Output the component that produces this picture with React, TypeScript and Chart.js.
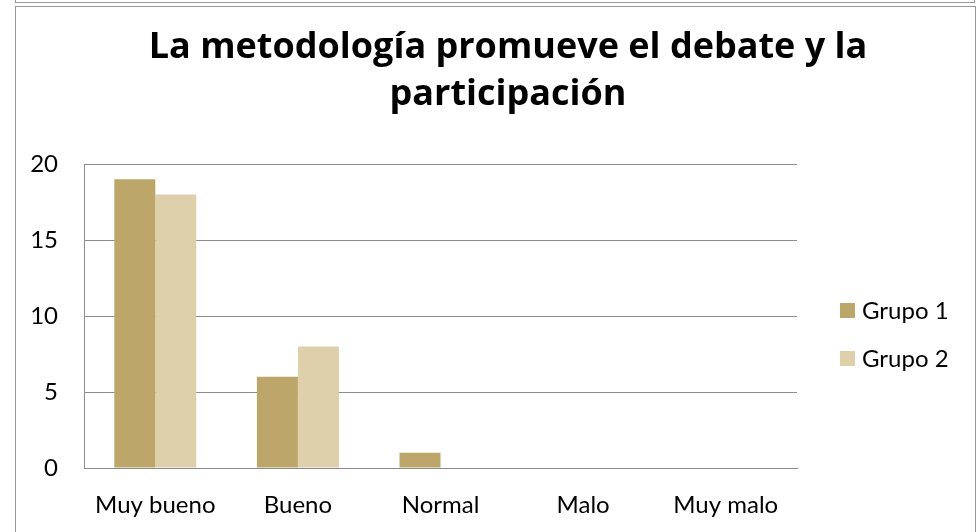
import React, { useEffect, useRef } from "react";
import { Chart, registerables } from "chart.js";

Chart.register(...registerables);

const categories = ["Muy bueno", "Bueno", "Normal", "Malo", "Muy malo"];
const seriesNames = ["Grupo 1", "Grupo 2"];
const grupo1 = [19, 6, 1, 0, 0];
const grupo2 = [18, 8, 0, 0, 0];
const seriesColors = ["#BCA66A", "#DDD0AB"];
const titleLines = ["La metodología promueve el debate y la", "participación"];
const yMin = 0;
const yMax = 20;
const yStep = 5;

const FONT = "Lato, 'Open Sans', sans-serif";
const TITLE_FONT = "'Open Sans', Lato, sans-serif";
const GRID = "#8c8c8c";

const legendPlugin = {
  id: "customLegend",
  afterDraw(chart: any) {
    const ctx = chart.ctx;
    ctx.save();
    ctx.font = `24px ${FONT}`;
    ctx.textBaseline = "middle";
    ctx.textAlign = "left";
    chart.data.datasets.forEach((ds: any, i: number) => {
      const y = 303 + i * 48;
      ctx.fillStyle = ds.backgroundColor;
      ctx.fillRect(840, y, 15, 15);
      ctx.fillStyle = "#000";
      ctx.fillText(ds.label, 862, y + 8);
    });
    ctx.restore();
  },
};

export default function App() {
  const ref = useRef<HTMLCanvasElement>(null);
  useEffect(() => {
    document.body.style.margin = "0";
    const chart = new Chart(ref.current!, {
      type: "bar",
      data: {
        labels: categories,
        datasets: [
          { label: seriesNames[0], data: grupo1, backgroundColor: seriesColors[0], yAxisID: "y" },
          { label: seriesNames[1], data: grupo2, backgroundColor: seriesColors[1], yAxisID: "y" },
        ],
      },
      options: {
        animation: false,
        responsive: false,
        maintainAspectRatio: false,
        devicePixelRatio: 1,
        layout: { padding: { left: 30, right: -6, top: 0, bottom: 0 } },
        datasets: { bar: { categoryPercentage: 0.575, barPercentage: 1, borderWidth: 0 } },
        plugins: {
          legend: { display: false },
          tooltip: { enabled: false },
          title: {
            display: true,
            text: titleLines,
            color: "#000",
            font: { family: TITLE_FONT, size: 36, weight: "bold", lineHeight: 47 / 36 },
            padding: { top: 24, bottom: 46 },
          },
        },
        scales: {
          x: {
            grid: { display: false },
            border: { display: true, color: GRID, width: 1 },
            ticks: { color: "#000", font: { family: FONT, size: 24 }, padding: 15, maxRotation: 0 },
            afterFit: (s: any) => { s.height = 64; },
          },
          y: {
            position: "left",
            min: yMin,
            max: yMax,
            grid: { color: GRID, lineWidth: 1, drawTicks: false },
            border: { display: true, color: GRID, width: 1 },
            ticks: { stepSize: yStep, color: "#000", font: { family: FONT, size: 24 }, padding: 26 },
            afterFit: (s: any) => { s.width = 54; },
          },
          yR: {
            position: "right",
            display: true,
            grid: { display: false, drawTicks: false },
            border: { display: false },
            ticks: { display: false },
            afterFit: (s: any) => { s.width = 189; },
          },
        },
      },
      plugins: [legendPlugin],
    });
    return () => chart.destroy();
  }, []);
  return (
    <div style={{ position: "fixed", left: 0, top: 0, width: 980, height: 532, background: "#fff" }}>
      <div style={{ position: "absolute", left: 15, top: -2, width: 960, height: 5, borderLeft: "1px solid #9a9a9a", borderRight: "1px solid #9a9a9a", borderBottom: "1px solid #9a9a9a", boxSizing: "border-box" }} />
      <canvas ref={ref} width={980} height={532} style={{ position: "absolute", left: 0, top: 0, width: 980, height: 532 }} />
      <div style={{ position: "absolute", left: 15, top: 6, width: 961, height: 540, border: "1px solid #9a9a9a", boxSizing: "border-box", pointerEvents: "none" }} />
    </div>
  );
}
